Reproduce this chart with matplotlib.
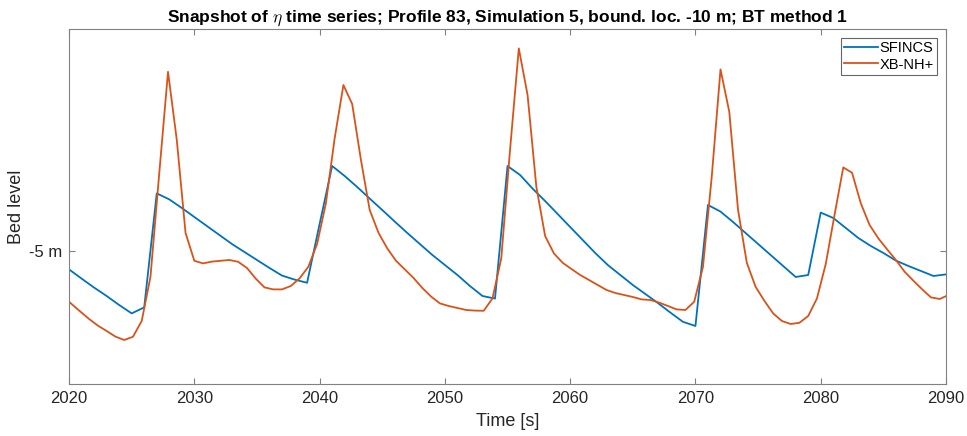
import numpy as np
import matplotlib
matplotlib.use("Agg")
import matplotlib.pyplot as plt

plt.rcParams['font.family'] = ['Liberation Sans', 'DejaVu Sans']
plt.rcParams['mathtext.fontset'] = 'cm'

# SFINCS: Ausgabe jede Sekunde
t_sfincs = np.arange(2020, 2091, 1.0)
eta_sfincs = [
    -5.092, -5.138, -5.183, -5.225, -5.270, -5.312, -5.282, -4.712, -4.742, -4.785,
    -4.830, -4.875, -4.920, -4.965, -5.005, -5.045, -5.085, -5.123, -5.143, -5.159,
    -4.865, -4.575, -4.625, -4.680, -4.738, -4.795, -4.853, -4.910, -4.965, -5.020,
    -5.070, -5.120, -5.175, -5.225, -5.238, -4.575, -4.620, -4.688, -4.750, -4.815,
    -4.880, -4.945, -5.010, -5.070, -5.120, -5.170, -5.215, -5.260, -5.308, -5.354,
    -5.375, -4.770, -4.803, -4.855, -4.910, -4.965, -5.020, -5.075, -5.130, -5.120,
    -4.808, -4.835, -4.885, -4.935, -4.975, -5.010, -5.048, -5.075, -5.100, -5.125,
    -5.117,
]

# XB-NH+: Ausgabe alle 0.7 s
eta_xb = [
    -5.225, -5.265, -5.303, -5.340, -5.373, -5.400, -5.428, -5.445, -5.429, -5.350,
    -5.129, -4.612, -4.104, -4.445, -4.910, -5.049, -5.062, -5.053, -5.049, -5.045,
    -5.054, -5.085, -5.138, -5.182, -5.192, -5.192, -5.175, -5.137, -5.079, -4.965,
    -4.762, -4.437, -4.170, -4.265, -4.545, -4.795, -4.909, -4.987, -5.049, -5.092,
    -5.135, -5.185, -5.228, -5.262, -5.275, -5.285, -5.295, -5.298, -5.299, -5.237,
    -5.037, -4.495, -3.987, -4.220, -4.679, -4.925, -5.012, -5.059, -5.090, -5.120,
    -5.145, -5.170, -5.195, -5.210, -5.220, -5.230, -5.242, -5.245, -5.258, -5.275,
    -5.292, -5.295, -5.254, -5.079, -4.629, -4.092, -4.304, -4.795, -5.059, -5.179,
    -5.249, -5.312, -5.350, -5.365, -5.359, -5.325, -5.237, -5.065, -4.820, -4.582,
    -4.609, -4.762, -4.870, -4.937, -4.992, -5.045, -5.104, -5.149, -5.192, -5.232,
    -5.240, -5.220,
]
t_xb = 2019.5 + 0.7 * np.arange(len(eta_xb))

x_ticks = [2020, 2030, 2040, 2050, 2060, 2070, 2080, 2090]
y_ticks = [-5]
y_ticklabels = ['-5 m']

fig = plt.figure(figsize=(9.67, 4.36), dpi=100)
ax = fig.add_axes([0.0714, 0.1193, 0.9069, 0.8142])

ax.plot(t_sfincs, eta_sfincs, color='#0072BD', lw=1.3, label='SFINCS')
ax.plot(t_xb, eta_xb, color='#D95319', lw=1.3, label='XB-NH+')

ax.set_xlim(2020, 2090)
ax.set_ylim(-5.665, -3.89)
ax.set_xticks(x_ticks)
ax.set_yticks(y_ticks)
ax.set_yticklabels(y_ticklabels)

for s in ax.spines.values():
    s.set_color('#808080')
    s.set_linewidth(0.8)
ax.tick_params(direction='in', top=True, right=True, length=4, width=0.8,
               color='#808080', labelsize=12, labelcolor='#262626', pad=5)

ax.set_xlabel('Time [s]', fontsize=13, color='#262626', labelpad=5)
ax.set_ylabel('Bed level', fontsize=13, color='#262626', labelpad=3)
ax.set_title(r'Snapshot of $\eta$ time series; Profile 83, Simulation 5, bound. loc. -10 m; BT method 1',
             fontsize=12.5, fontweight='bold', pad=5)

leg = ax.legend(loc='upper right', fontsize=10.5, frameon=True, fancybox=False,
                edgecolor='#404040', handlelength=2.3, handletextpad=0.1,
                borderpad=0.25, labelspacing=0.15, borderaxespad=0.6)
leg.get_frame().set_linewidth(0.8)

fig.savefig('out.png', dpi=100)
